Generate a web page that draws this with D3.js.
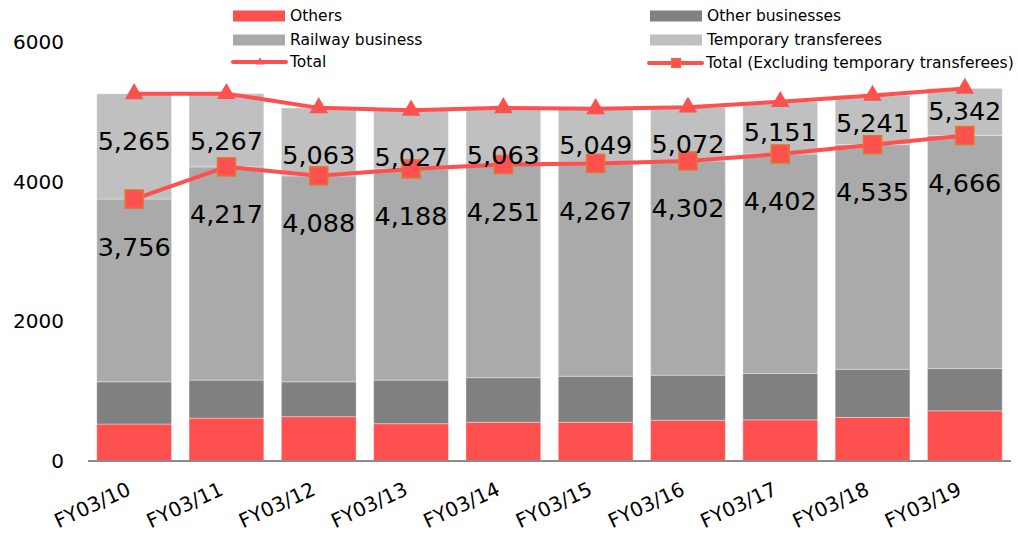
<!DOCTYPE html>
<html>
<head>
<meta charset="utf-8">
<script src="https://cdn.jsdelivr.net/npm/d3@7"></script>
<style>
  html, body { margin: 0; padding: 0; background: #fff; }
  svg { display: block; font-family: "DejaVu Sans", Verdana, sans-serif; }
</style>
</head>
<body>
<svg id="chart" width="1018" height="538"></svg>
<script>
// Fiscal years on the x axis
const categories = ["FY03/10", "FY03/11", "FY03/12", "FY03/13", "FY03/14",
                    "FY03/15", "FY03/16", "FY03/17", "FY03/18", "FY03/19"];
// Headcount totals (line series)
const totalValues = [5265, 5267, 5063, 5027, 5063, 5049, 5072, 5151, 5241, 5342];
const exclTempValues = [3756, 4217, 4088, 4188, 4251, 4267, 4302, 4402, 4535, 4666];
// Segment values for the stacked bars
const othersValues = [530, 615, 635, 535, 555, 555, 585, 590, 625, 720];
const otherBusinessValues = [605, 545, 500, 625, 640, 660, 645, 665, 690, 605];
// Y axis ticks
const yTickValues = [0, 2000, 4000, 6000];

// Railway = excluding-transferees total minus the other two segments;
// temporary transferees = total minus excluding-transferees total.
const railwayValues = exclTempValues.map((v, i) => v - othersValues[i] - otherBusinessValues[i]);
const temporaryValues = totalValues.map((v, i) => v - exclTempValues[i]);

const rows = categories.map((c, i) => ({
  cat: c,
  others: othersValues[i],
  otherBiz: otherBusinessValues[i],
  railway: railwayValues[i],
  temp: temporaryValues[i]
}));

const keys = ["others", "otherBiz", "railway", "temp"];
const colors = { others: "#FF5050", otherBiz: "#808080", railway: "#AAAAAA", temp: "#C0C0C0" };
const lineColor = "#FF5050";
const squareStroke = "#E0762F";

// Offsets (px) of the value labels below their points
const totalLabelDy = [47, 47, 47, 47, 47, 36, 37, 30, 28, 23];
const exclLabelDy = 47.5;

const svg = d3.select("#chart");

const x = d3.scaleBand().domain(categories).range([88, 1011]).paddingInner(0.19).paddingOuter(0.095);
const y = d3.scaleLinear().domain([0, 6000]).range([461, 42.5]);

// Stacked bars
const series = d3.stack().keys(keys)(rows);
svg.append("g").selectAll("g").data(series).join("g")
  .attr("fill", d => colors[d.key])
  .selectAll("rect").data(d => d).join("rect")
  .attr("x", d => x(d.data.cat))
  .attr("width", x.bandwidth())
  .attr("y", d => y(d[1]))
  .attr("height", d => y(d[0]) - y(d[1]))
  .attr("stroke", "#ffffff")
  .attr("stroke-opacity", 0.35)
  .attr("stroke-width", 1);

// Baseline
svg.append("line")
  .attr("x1", 88).attr("x2", 1011)
  .attr("y1", y(0)).attr("y2", y(0))
  .attr("stroke", "#8c8c8c").attr("stroke-width", 2);

// Y axis labels (no axis line)
const yAxis = d3.axisLeft(y).tickValues(yTickValues).tickSize(0).tickPadding(0).tickFormat(d3.format("d"));
const yg = svg.append("g").attr("transform", "translate(64,0)").call(yAxis);
yg.select(".domain").remove();
yg.selectAll("text").attr("font-size", 20).attr("fill", "#000").attr("font-family", "DejaVu Sans, Verdana, sans-serif");

// X axis labels, rotated
const xAxis = d3.axisBottom(x).tickSize(0).tickPadding(0);
const xg = svg.append("g").attr("transform", `translate(0,${y(0)})`).call(xAxis);
xg.select(".domain").remove();
xg.selectAll("text")
  .attr("font-size", 20).attr("fill", "#000")
  .attr("font-family", "DejaVu Sans, Verdana, sans-serif")
  .attr("text-anchor", "end")
  .attr("dy", null).attr("y", 0)
  .attr("transform", "translate(-2,33) rotate(-25)");

const cx = c => x(c) + x.bandwidth() / 2;

// Lines
const line = d3.line().x(d => cx(d.cat)).y(d => y(d.v));
const totalPts = categories.map((c, i) => ({ cat: c, v: totalValues[i], i }));
const exclPts = categories.map((c, i) => ({ cat: c, v: exclTempValues[i], i }));

svg.append("path").datum(totalPts).attr("d", line)
  .attr("fill", "none").attr("stroke", lineColor).attr("stroke-width", 4).attr("stroke-linejoin", "round");
svg.append("path").datum(exclPts).attr("d", line)
  .attr("fill", "none").attr("stroke", lineColor).attr("stroke-width", 4).attr("stroke-linejoin", "round");

// Markers
const tri = d3.symbol().type(d3.symbolTriangle).size(150);
svg.append("g").selectAll("path").data(totalPts).join("path")
  .attr("d", tri)
  .attr("transform", d => `translate(${cx(d.cat)},${y(d.v)})`)
  .attr("fill", lineColor);

const sq = 18;
svg.append("g").selectAll("rect").data(exclPts).join("rect")
  .attr("x", d => cx(d.cat) - sq / 2).attr("y", d => y(d.v) - sq / 2)
  .attr("width", sq).attr("height", sq)
  .attr("fill", lineColor).attr("stroke", squareStroke).attr("stroke-width", 1.5);

// Value labels
const fmt = d3.format(",");
svg.append("g").selectAll("text").data(totalPts).join("text")
  .attr("x", d => cx(d.cat)).attr("y", d => y(d.v) + totalLabelDy[d.i])
  .attr("text-anchor", "middle").attr("dominant-baseline", "central")
  .attr("font-size", 25.5).attr("fill", "#000")
  .text(d => fmt(d.v));
svg.append("g").selectAll("text").data(exclPts).join("text")
  .attr("x", d => cx(d.cat)).attr("y", d => y(d.v) + exclLabelDy)
  .attr("text-anchor", "middle").attr("dominant-baseline", "central")
  .attr("font-size", 25.5).attr("fill", "#000")
  .text(d => fmt(d.v));

// Legend
const legend = svg.append("g").attr("font-size", 15.5).attr("fill", "#000");
const legendItems = [
  { label: "Others", kind: "rect", color: colors.others, x: 233, y: 16 },
  { label: "Other businesses", kind: "rect", color: colors.otherBiz, x: 650, y: 16 },
  { label: "Railway business", kind: "rect", color: colors.railway, x: 233, y: 40 },
  { label: "Temporary transferees", kind: "rect", color: colors.temp, x: 650, y: 40 },
  { label: "Total", kind: "tri", x: 233, y: 62 },
  { label: "Total (Excluding temporary transferees)", kind: "sq", x: 649, y: 63 }
];
legendItems.forEach(it => {
  const g = legend.append("g");
  if (it.kind === "rect") {
    g.append("rect").attr("x", it.x).attr("y", it.y - 5.5).attr("width", 52).attr("height", 11).attr("fill", it.color);
  } else {
    g.append("line").attr("x1", it.x).attr("x2", it.x + 53).attr("y1", it.y).attr("y2", it.y)
      .attr("stroke", lineColor).attr("stroke-width", 4).attr("stroke-linecap", "round");
    if (it.kind === "tri") {
      g.append("path").attr("d", d3.symbol().type(d3.symbolTriangle).size(30)())
        .attr("transform", `translate(${it.x + 27},${it.y})`).attr("fill", lineColor);
    } else {
      g.append("rect").attr("x", it.x + 22.5).attr("y", it.y - 4.5).attr("width", 9).attr("height", 9)
        .attr("fill", lineColor).attr("stroke", squareStroke).attr("stroke-width", 1.2);
    }
  }
  g.append("text").attr("x", it.x + 57).attr("y", it.y).attr("dominant-baseline", "central").text(it.label);
});
</script>
</body>
</html>
